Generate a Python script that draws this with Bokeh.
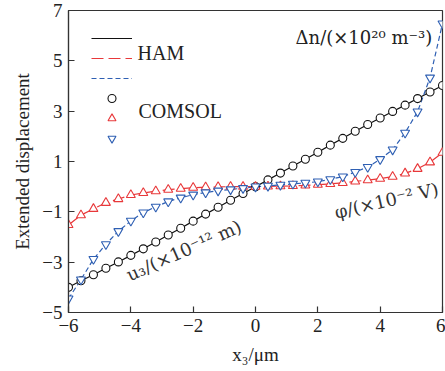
from bokeh.plotting import figure
from bokeh.models import Legend, LegendItem, Label, FixedTicker
from bokeh.embed import file_html
from bokeh.resources import INLINE

# ---- data ----
x3 = [-6.0, -5.6, -5.2, -4.8, -4.4, -4.0, -3.6, -3.2, -2.8, -2.4, -2.0, -1.6, -1.2, -0.8, -0.4,
      0.0, 0.4, 0.8, 1.2, 1.6, 2.0, 2.4, 2.8, 3.2, 3.6, 4.0, 4.4, 4.8, 5.2, 5.6, 6.0]
u3 = [-4.00, -3.74, -3.50, -3.24, -2.99, -2.73, -2.47, -2.20, -1.92, -1.65, -1.37, -1.09, -0.82, -0.54, -0.27,
      0.00, 0.27, 0.54, 0.82, 1.09, 1.37, 1.65, 1.92, 2.20, 2.47, 2.73, 2.99, 3.24, 3.50, 3.76, 4.02]
phi = [-1.52, -1.13, -0.88, -0.64, -0.49, -0.33, -0.25, -0.18, -0.12, -0.08, -0.04, -0.02, -0.01, 0.00, 0.00,
       0.00, 0.01, 0.02, 0.03, 0.05, 0.08, 0.11, 0.15, 0.21, 0.26, 0.32, 0.40, 0.53, 0.71, 0.97, 1.35]
dn = [-4.45, -3.69, -2.88, -2.29, -1.77, -1.36, -1.03, -0.80, -0.59, -0.44, -0.32, -0.23, -0.16, -0.11, -0.06,
      0.00, 0.03, 0.07, 0.11, 0.15, 0.20, 0.29, 0.40, 0.58, 0.78, 1.09, 1.47, 2.14, 2.98, 4.33, 6.48]

x_ticks = [-6, -4, -2, 0, 2, 4, 6]
x_tick_labels = ["\u22126", "\u22124", "\u22122", "0", "2", "4", "6"]
y_ticks = [-5, -3, -1, 1, 3, 5, 7]
y_tick_labels = ["\u22125", "\u22123", "\u22121", "1", "3", "5", "7"]

FONT = "Liberation Serif"
AFONT = "DejaVu Serif"
BLACK = "#111111"
RED = "#e8383a"
BLUE = "#2e5fb3"

p = figure(width=445, height=371, output_backend="svg", toolbar_location=None,
           x_range=(-6, 6), y_range=(-5, 7),
           min_border_left=68, min_border_right=3, min_border_top=10, min_border_bottom=59)
p.background_fill_color = "white"
p.border_fill_color = "white"
p.grid.visible = False
p.outline_line_color = "#333333"
p.outline_line_width = 1.2

for ax, ticks, labels in ((p.xaxis[0], x_ticks, x_tick_labels), (p.yaxis[0], y_ticks, y_tick_labels)):
    ax.ticker = FixedTicker(ticks=ticks)
    ax.major_label_overrides = dict(zip(ticks, labels))
    ax.major_tick_in = 6
    ax.major_tick_out = 0
    ax.minor_tick_line_color = None
    ax.axis_line_color = "#333333"
    ax.axis_line_width = 1.2
    ax.major_tick_line_color = "#333333"
    ax.major_tick_line_width = 1.2
    ax.major_label_text_font = FONT
    ax.major_label_text_font_size = "19px"
    ax.major_label_text_color = "#222222"
    ax.axis_label_text_font = FONT
    ax.axis_label_text_font_size = "19px"
    ax.axis_label_text_font_style = "normal"
    ax.axis_label_text_color = "#222222"

p.xaxis.axis_label = "x\u2083/\u03bcm"
p.yaxis.axis_label = "Extended displacement"
p.xaxis.major_label_standoff = 6
p.yaxis.major_label_standoff = 6
p.xaxis.axis_label_standoff = 9
p.yaxis.axis_label_standoff = 6

# HAM curves
l_u = p.line(x3, u3, line_color=BLACK, line_width=1.2)
l_phi = p.line(x3, phi, line_color=RED, line_width=1.2, line_dash="12 5")
l_dn = p.line(x3, dn, line_color=BLUE, line_width=1.2, line_dash="5 3")

# COMSOL points
s_u = p.scatter(x3, u3, marker="circle", size=8, line_color=BLACK, fill_color="white", line_width=1.1)
s_phi = p.scatter(x3, phi, marker="triangle", size=9, line_color=RED, fill_color="white", line_width=1.1)
s_dn = p.scatter(x3, dn, marker="inverted_triangle", size=9, line_color=BLUE, fill_color="white", line_width=1.1)

legend = Legend(items=[
    LegendItem(label="", renderers=[l_u]),
    LegendItem(label="", renderers=[l_phi]),
    LegendItem(label="", renderers=[l_dn]),
    LegendItem(label="", renderers=[s_u]),
    LegendItem(label="", renderers=[s_phi]),
    LegendItem(label="", renderers=[s_dn]),
], location=(23, 164))
legend.glyph_width = 41
legend.glyph_height = 20
legend.label_height = 1
legend.label_width = 1
legend.spacing = 0
legend.padding = 0
legend.margin = 0
legend.label_standoff = 0
legend.label_text_font = FONT
legend.label_text_font_size = "1px"
legend.border_line_alpha = 0
legend.background_fill_alpha = 0
p.add_layout(legend)

# legend group names
p.add_layout(Label(x=69, y=260, x_units="screen", y_units="screen", text="HAM",
                   text_baseline="middle", text_font=FONT, text_font_size="20px", text_color="#222222"))
p.add_layout(Label(x=70, y=202, x_units="screen", y_units="screen", text="COMSOL",
                   text_baseline="middle", text_font=FONT, text_font_size="20px", text_color="#222222"))

# curve annotations
p.add_layout(Label(x=5.67, y=5.93, text="\u0394n/(\u00d710\u00b2\u2070 m\u207b\u00b3)",
                   text_align="right", text_baseline="middle",
                   text_font=AFONT, text_font_size="18px", text_color="#222222"))
p.add_layout(Label(x=-2.3, y=-2.53, text="u\u2083/(\u00d710\u207b\u00b9\u00b2 m)",
                   text_align="center", text_baseline="middle", angle=24, angle_units="deg",
                   text_font=AFONT, text_font_size="18px", text_color="#333333"))
p.add_layout(Label(x=4.2, y=-0.55, text="\u03c6/(\u00d710\u207b\u00b2 V)",
                   text_align="center", text_baseline="middle", angle=13, angle_units="deg",
                   text_font=AFONT, text_font_size="18px", text_color="#333333"))

open("out.html", "w").write(file_html(p, INLINE))
